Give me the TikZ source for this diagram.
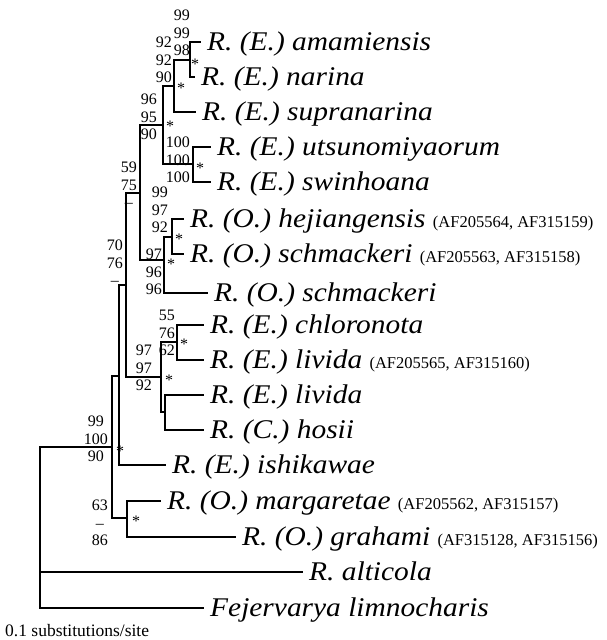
\documentclass[tikz,border=0pt]{standalone}
\usepackage{fontspec}
\setmainfont{Liberation Serif}
\newfontfamily\taxonfont[FakeStretch=1.09]{Liberation Serif}
\usepackage{tikz}

\newcommand{\accno}[1]{{\rmfamily\upshape\fontsize{16.5}{18}\selectfont(#1)}}

\begin{document}
\begin{tikzpicture}[x=1pt, y=-1pt,
        branch/.style={line width=1.8pt, line cap=rect},
        leaf/.style={anchor=west, inner xsep=7pt, inner ysep=0pt, text height=17.6pt, text depth=0pt, font=\taxonfont\fontsize{27}{30}\selectfont\itshape},
        boot/.style={anchor=east, align=center, inner sep=0pt, font=\fontsize{16}{17.5}\selectfont},
        star/.style={inner sep=0pt, yshift=-2.5pt, font=\fontsize{16}{16}\selectfont},
        scalelabel/.style={anchor=west, inner sep=0pt, font=\fontsize{17.5}{20}\selectfont}
    ]
    \useasboundingbox (0,0) rectangle (607,640);

    % Internal nodes
    \coordinate (root) at (40,527);
    \coordinate (nD) at (112,447);
    \coordinate (nC) at (119,376);
    \coordinate (nMG) at (127,518);
    \coordinate (nB) at (126,285);
    \coordinate (nE) at (140,193);
    \coordinate (nF) at (161,377);
    \coordinate (nA) at (163,125);
    \coordinate (nO) at (164,260);
    \coordinate (nS) at (174,86);
    \coordinate (nU) at (193,164);
    \coordinate (nAN) at (190,60);
    \coordinate (nHS) at (172,237);
    \coordinate (nG) at (177,342);
    \coordinate (nH) at (165,412);

    % Taxa
    \node[leaf] (amamiensis) at (200,42) {R. (E.) amamiensis};
    \node[leaf] (narina) at (194,77) {R. (E.) narina};
    \node[leaf] (supranarina) at (195,112) {R. (E.) supranarina};
    \node[leaf] (utsunomiyaorum) at (210,147) {R. (E.) utsunomiyaorum};
    \node[leaf] (swinhoana) at (210,182) {R. (E.) swinhoana};
    \node[leaf] (hejiangensis) at (183,219) {R. (O.) hejiangensis \accno{AF205564, AF315159}};
    \node[leaf] (schmackeriA) at (183,254) {R. (O.) schmackeri \accno{AF205563, AF315158}};
    \node[leaf] (schmackeriB) at (207,293) {R. (O.) schmackeri};
    \node[leaf] (chloronota) at (203,325) {R. (E.) chloronota};
    \node[leaf] (lividaA) at (203,360) {R. (E.) livida \accno{AF205565, AF315160}};
    \node[leaf] (lividaB) at (203,395) {R. (E.) livida};
    \node[leaf] (hosii) at (203,430) {R. (C.) hosii};
    \node[leaf] (ishikawae) at (165,465) {R. (E.) ishikawae};
    \node[leaf] (margaretae) at (160,501) {R. (O.) margaretae \accno{AF205562, AF315157}};
    \node[leaf] (grahami) at (235,537) {R. (O.) grahami \accno{AF315128, AF315156}};
    \node[leaf] (alticola) at (302,572) {R. alticola};
    \node[leaf] (fejervarya) at (203,608) {Fejervarya limnocharis};

    % Branches
    \draw[branch] (root) |- (nD);
    \draw[branch] (root) |- (alticola.west);
    \draw[branch] (root) |- (fejervarya.west);
    \draw[branch] (nD) |- (nC);
    \draw[branch] (nD) |- (nMG);
    \draw[branch] (nC) |- (nB);
    \draw[branch] (nC) |- (ishikawae.west);
    \draw[branch] (nB) |- (nE);
    \draw[branch] (nB) |- (nF);
    \draw[branch] (nE) |- (nA);
    \draw[branch] (nE) |- (nO);
    \draw[branch] (nA) |- (nS);
    \draw[branch] (nA) |- (nU);
    \draw[branch] (nS) |- (nAN);
    \draw[branch] (nS) |- (supranarina.west);
    \draw[branch] (nAN) |- (amamiensis.west);
    \draw[branch] (nAN) |- (narina.west);
    \draw[branch] (nU) |- (utsunomiyaorum.west);
    \draw[branch] (nU) |- (swinhoana.west);
    \draw[branch] (nO) |- (nHS);
    \draw[branch] (nO) |- (schmackeriB.west);
    \draw[branch] (nHS) |- (hejiangensis.west);
    \draw[branch] (nHS) |- (schmackeriA.west);
    \draw[branch] (nF) |- (nG);
    \draw[branch] (nF) |- (nH);
    \draw[branch] (nG) |- (chloronota.west);
    \draw[branch] (nG) |- (lividaA.west);
    \draw[branch] (nH) |- (lividaB.west);
    \draw[branch] (nH) |- (hosii.west);
    \draw[branch] (nMG) |- (margaretae.west);
    \draw[branch] (nMG) |- (grahami.west);

    % Support values
    \node[boot] (bAN) at (190,33) {99\\99\\98};
    \node[boot] (bS) at (172,60) {92\\92\\90};
    \node[boot] (bA) at (157,117) {96\\95\\90};
    \node[boot] (bU) at (190,160) {100\\100\\100};
    \node[boot] (bE) at (137,185) {59\\75\\--};
    \node[boot] (bHS) at (168,210) {99\\97\\92};
    \node[boot] (bO) at (162,272) {97\\96\\96};
    \node[boot] (bB) at (123,263) {70\\76\\--};
    \node[boot] (bG) at (175,333) {55\\76\\62};
    \node[boot] (bF) at (152,368) {97\\97\\92};
    \node[boot] (bD) at (108,439) {99\\100\\90};
    \node[boot] (bMG) at (108,523) {63\\--\\86};

    % Asterisks
    \node[star] (sAN) at (195,62) {*};
    \node[star] (sS) at (181,86) {*};
    \node[star] (sA) at (170,124) {*};
    \node[star] (sU) at (200,166) {*};
    \node[star] (sHS) at (179,237) {*};
    \node[star] (sO) at (171,262) {*};
    \node[star] (sG) at (184,342) {*};
    \node[star] (sF) at (169,378) {*};
    \node[star] (sD) at (120,449) {*};
    \node[star] (sMG) at (136,519) {*};

    % Scale
    \node[scalelabel] (scale) at (5,631) {0.1 substitutions/site};
\end{tikzpicture}
\end{document}
